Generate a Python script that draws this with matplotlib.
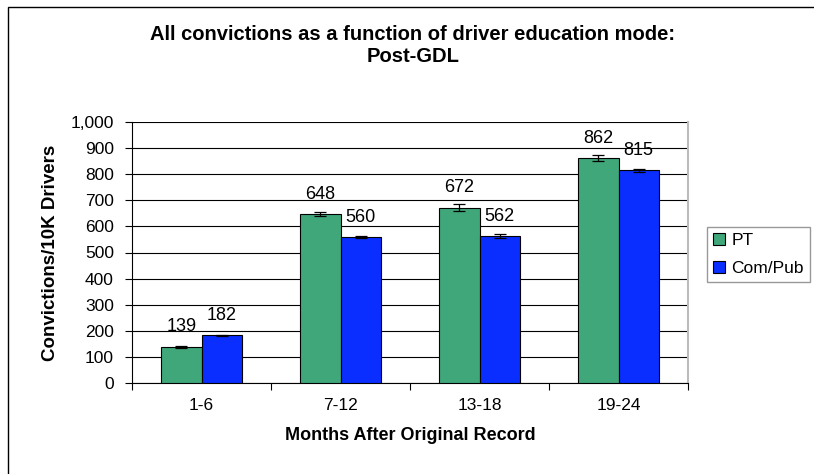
"""Convictions by driver education mode, post-GDL."""

import matplotlib.pyplot as plt
import matplotlib.patches as mpatches
import numpy as np

plt.rcParams["font.family"] = ["Liberation Sans", "DejaVu Sans"]

periods = ["1-6", "7-12", "13-18", "19-24"]
pt_vals = [139, 648, 672, 862]
pub_vals = [182, 560, 562, 815]
pt_err = [3, 8, 13, 13]
pub_err = [3, 5, 7, 6]
yticks = list(range(0, 1001, 100))

GREEN = "#3FA77A"
BLUE = "#0A2EFF"

fig = plt.figure(figsize=(8.14, 4.74), dpi=100)
ax = fig.add_axes([132 / 814, 1 - 383 / 474, 556 / 814, 261 / 474])

x = np.arange(len(periods))
w = 0.29
err_kw = dict(ecolor="black", elinewidth=0.9, capsize=4, capthick=0.9)
ax.bar(x - w / 2, pt_vals, w, yerr=pt_err, color=GREEN, edgecolor="black",
       linewidth=0.8, error_kw=err_kw, label="PT", zorder=3)
ax.bar(x + w / 2, pub_vals, w, yerr=pub_err, color=BLUE, edgecolor="black",
       linewidth=0.8, error_kw=err_kw, label="Com/Pub", zorder=3)

for xi, v in zip(x - w / 2, pt_vals):
    ax.annotate(f"{v}", (xi, v), xytext=(0, 11), textcoords="offset points",
                ha="center", va="baseline", fontsize=13)
for xi, v in zip(x + w / 2, pub_vals):
    ax.annotate(f"{v}", (xi, v), xytext=(0, 11), textcoords="offset points",
                ha="center", va="baseline", fontsize=13)

ax.set_xlim(-0.5, len(periods) - 0.5)
ax.set_ylim(0, 1000)
ax.set_yticks(yticks)
ax.set_yticklabels([f"{t:,}" for t in yticks], fontsize=12.5)
ax.set_xticks(x)
ax.set_xticklabels(periods, fontsize=12.5)
ax.set_xticks(np.arange(-0.5, len(periods)), minor=True)
ax.tick_params(axis="x", which="major", length=0, pad=11)
ax.tick_params(axis="x", which="minor", length=5, width=0.8)
ax.tick_params(axis="y", length=5, width=0.8, pad=8)
ax.grid(axis="y", color="black", linewidth=0.8, zorder=0)
ax.set_axisbelow(True)

ax.spines["top"].set_visible(False)
ax.spines["right"].set_color("#bbbbbb")
ax.spines["right"].set_linewidth(1.5)
for s in ("left", "bottom"):
    ax.spines[s].set_linewidth(0.8)

ax.set_xlabel("Months After Original Record", fontsize=13, fontweight="bold", labelpad=10)
ax.set_ylabel("Convictions/10K Drivers", fontsize=13.5, fontweight="bold", labelpad=8)

fig.text(0.507, 1 - 34 / 474, "All convictions as a function of driver education mode:",
         ha="center", va="center", fontsize=14.5, fontweight="bold")
fig.text(0.507, 1 - 57 / 474, "Post-GDL", ha="center", va="center",
         fontsize=14.5, fontweight="bold")

leg = fig.legend(loc="lower left", bbox_to_anchor=(707 / 814, 1 - 282 / 474),
                 borderaxespad=0, fontsize=12.5, frameon=True, fancybox=False,
                 handlelength=0.7, handleheight=0.7, handletextpad=0.35,
                 borderpad=0.35, labelspacing=0.75)
leg.get_frame().set_edgecolor("#808080")
leg.get_frame().set_linewidth(1.0)

# outer chart frame
fig.patches.append(mpatches.Rectangle((8 / 814, -0.1), 1.2, 1 - 7 / 474 + 0.1,
                                      transform=fig.transFigure, fill=False,
                                      edgecolor="black", linewidth=1.0))

fig.savefig("out.png", dpi=100)
